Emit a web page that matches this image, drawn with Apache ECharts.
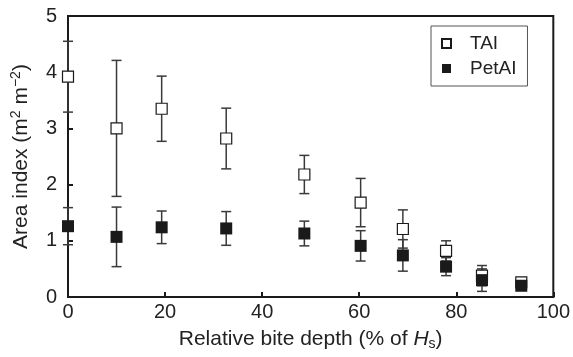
<html>
<head>
<meta charset="UTF-8">
<script src="https://cdn.jsdelivr.net/npm/echarts@6/dist/echarts.min.js"></script>
<style>
  body { margin: 0; background: #fff; }
  #main { width: 573px; height: 357px; }
</style>
</head>
<body>
<div id="main"></div>
<script>
// relative bite depth (% of Hs)
var depth = [0, 10, 19.3, 32.6, 48.7, 60.3, 69, 77.9, 85.3, 93.4];
// total area index and its error
var tai = [3.92, 3.0, 3.35, 2.82, 2.18, 1.68, 1.21, 0.82, 0.38, 0.26];
var taiErr = [0.63, 1.21, 0.58, 0.54, 0.34, 0.43, 0.34, 0.18, 0.18, 0.06];
// petiole area index and its error
var pet = [1.26, 1.07, 1.24, 1.22, 1.13, 0.91, 0.74, 0.54, 0.30, 0.20];
var petErr = [0.33, 0.53, 0.29, 0.30, 0.22, 0.27, 0.28, 0.16, 0.20, 0.05];

var font = 'Liberation Sans, Arial, sans-serif';

function pairs(v) {
  return depth.map(function (d, i) { return [d, v[i]]; });
}
function errRows(v, e) {
  return depth.map(function (d, i) { return [d, v[i], e[i]]; });
}

function renderErr(params, api) {
  var x = api.value(0), y = api.value(1), e = api.value(2);
  var hi = api.coord([x, y + e]);
  var lo = api.coord([x, y - e]);
  var w = 5;
  var st = { stroke: '#3a3a3a', lineWidth: 1.5 };
  return {
    type: 'group',
    children: [
      { type: 'line', shape: { x1: hi[0], y1: hi[1], x2: lo[0], y2: lo[1] }, style: st },
      { type: 'line', shape: { x1: hi[0] - w, y1: hi[1], x2: hi[0] + w, y2: hi[1] }, style: st },
      { type: 'line', shape: { x1: lo[0] - w, y1: lo[1], x2: lo[0] + w, y2: lo[1] }, style: st }
    ]
  };
}

var chart = echarts.init(document.getElementById('main'));
chart.setOption({
  animation: false,
  textStyle: { fontFamily: font },
  grid: {
    left: 68, right: 18, top: 16, bottom: 60,
    show: true, borderColor: '#1a1a1a', borderWidth: 2
  },
  legend: {
    left: 431, top: 26,
    orient: 'vertical',
    padding: [8, 11, 8, 10],
    itemGap: 6,
    itemWidth: 9, itemHeight: 9,
    borderColor: '#555', borderWidth: 1,
    formatter: function (name) { return '{g| }' + name; },
    textStyle: {
      fontSize: 19, color: '#222', fontFamily: font,
      rich: { g: { width: 14, fontSize: 19 } }
    },
    data: ['TAI', 'PetAI']
  },
  xAxis: {
    type: 'value', min: 0, max: 100, interval: 20,
    name: 'Relative bite depth (% of {i|H}{s|s})',
    nameLocation: 'middle', nameGap: 28,
    nameTextStyle: {
      fontSize: 21, color: '#222', lineHeight: 24,
      rich: {
        i: { fontSize: 21, fontStyle: 'italic', color: '#222', lineHeight: 24 },
        s: { fontSize: 14, color: '#222', verticalAlign: 'bottom', lineHeight: 13 }
      }
    },
    axisLine: { lineStyle: { color: '#1a1a1a', width: 2 } },
    axisTick: { inside: true, length: 5, lineStyle: { color: '#1a1a1a', width: 2 } },
    axisLabel: { fontSize: 20, color: '#222', margin: 5 },
    splitLine: { show: false }
  },
  yAxis: {
    type: 'value', min: 0, max: 5, interval: 1,
    name: 'Area index (m{p|2} m{p|\u22122})',
    nameLocation: 'middle', nameGap: 35,
    nameTextStyle: {
      fontSize: 21, color: '#222', lineHeight: 24,
      rich: {
        p: { fontSize: 14, color: '#222', verticalAlign: 'top', lineHeight: 13 }
      }
    },
    axisLine: { lineStyle: { color: '#1a1a1a', width: 2 } },
    axisTick: { inside: true, length: 5, lineStyle: { color: '#1a1a1a', width: 2 } },
    axisLabel: { fontSize: 20, color: '#222', margin: 11 },
    splitLine: { show: false }
  },
  series: [
    {
      type: 'custom', renderItem: renderErr, data: errRows(tai, taiErr),
      encode: { x: 0, y: 1 }, clip: false, silent: true, z: 1
    },
    {
      type: 'custom', renderItem: renderErr, data: errRows(pet, petErr),
      encode: { x: 0, y: 1 }, clip: false, silent: true, z: 1
    },
    {
      name: 'TAI', type: 'scatter', data: pairs(tai),
      symbol: 'rect', symbolSize: 11, clip: false, z: 3,
      itemStyle: { color: '#fff', borderColor: '#1a1a1a', borderWidth: 1.2, opacity: 1 }
    },
    {
      name: 'PetAI', type: 'scatter', data: pairs(pet),
      symbol: 'rect', symbolSize: 12, clip: false, z: 3,
      itemStyle: { color: '#1a1a1a', opacity: 1 }
    }
  ]
});
</script>
</body>
</html>
